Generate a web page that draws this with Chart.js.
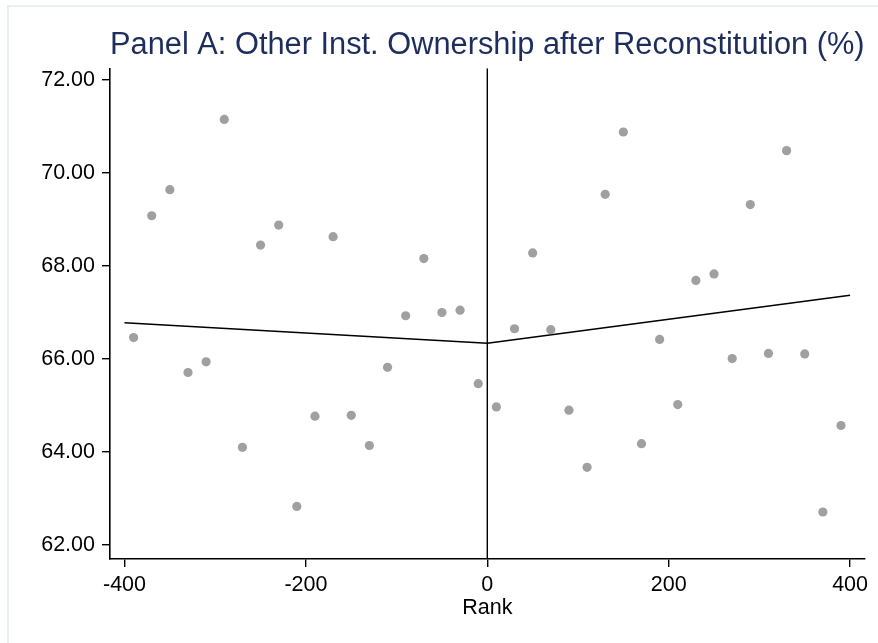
<!DOCTYPE html>
<html>
<head>
<meta charset="utf-8">
<script src="https://cdn.jsdelivr.net/npm/chart.js@4.4.1/dist/chart.umd.min.js"></script>
<style>
  html, body { margin: 0; padding: 0; background: #fff; }
  #wrap { position: relative; width: 878px; height: 643px; }
  #frame { position: absolute; left: 7px; top: 5px; right: -10px; bottom: -10px;
           border-top: 2px solid #e9f0f3; border-left: 2px solid #e9f0f3; }
  canvas { position: absolute; left: 0; top: 0; }
</style>
</head>
<body>
<div id="wrap">
  <div id="frame"></div>
  <canvas id="chart" width="878" height="643"></canvas>
</div>
<script>
const rank = [-390, -370, -350, -330, -310, -290, -270, -250, -230, -210,
              -190, -170, -150, -130, -110, -90, -70, -50, -30, -10,
              10, 30, 50, 70, 90, 110, 130, 150, 170, 190,
              210, 230, 250, 270, 290, 310, 330, 350, 370, 390];
const ownership = [66.46, 69.08, 69.64, 65.71, 65.94, 71.15, 64.10, 68.45, 68.88, 62.83,
                   64.77, 68.63, 64.79, 64.14, 65.82, 66.93, 68.16, 67.00, 67.05, 65.47,
                   64.97, 66.65, 68.28, 66.63, 64.90, 63.67, 69.54, 70.88, 64.18, 66.42,
                   65.02, 67.69, 67.83, 66.01, 69.32, 66.12, 70.48, 66.11, 62.71, 64.57];

// linear fits on each side of the cutoff
const fitLeftX = [-400, 0];
const fitLeftY = [66.78, 66.34];
const fitRightX = [0, 400];
const fitRightY = [66.34, 67.37];

const xTicks = [-400, -200, 0, 200, 400];
const yTicks = [62, 64, 66, 68, 70, 72];
const xRange = [-416, 416];
const yRange = [61.70, 72.25];

const toPoints = (xs, ys) => xs.map((x, i) => ({x: x, y: ys[i]}));

const FONT = '"Liberation Sans", Arial, sans-serif';

const ctx = document.getElementById('chart').getContext('2d');

new Chart(ctx, {
  type: 'scatter',
  data: {
    datasets: [
      {
        data: toPoints(rank, ownership),
        pointRadius: 4.6,
        pointBorderWidth: 0,
        pointBackgroundColor: '#a0a0a0',
        showLine: false
      },
      {
        data: toPoints(fitLeftX, fitLeftY),
        showLine: true,
        pointRadius: 0,
        borderColor: '#000',
        borderWidth: 1.6
      },
      {
        data: toPoints(fitRightX, fitRightY),
        showLine: true,
        pointRadius: 0,
        borderColor: '#000',
        borderWidth: 1.6
      },
      {
        // cutoff at rank 0
        data: toPoints([0, 0], yRange),
        showLine: true,
        pointRadius: 0,
        borderColor: '#000',
        borderWidth: 1.4
      }
    ]
  },
  options: {
    responsive: false,
    animation: false,
    layout: { padding: { left: 0, right: 13.4, top: 0, bottom: 0 } },
    plugins: {
      legend: { display: false },
      tooltip: { enabled: false },
      title: {
        display: true,
        fullSize: false,
        text: 'Panel A: Other Inst. Ownership after Reconstitution (%)',
        color: '#1e2e5c',
        font: { family: FONT, size: 31, weight: 'normal', lineHeight: 1.2 },
        padding: { top: 26.7, bottom: 4.4 }
      }
    },
    scales: {
      x: {
        type: 'linear',
        min: xRange[0],
        max: xRange[1],
        afterBuildTicks: (scale) => { scale.ticks = xTicks.map(v => ({value: v})); },
        afterFit: (scale) => { scale.height = 84; },
        grid: { display: true, drawOnChartArea: false, drawTicks: true, tickLength: 8, color: '#000', lineWidth: 1.4 },
        border: { display: true, color: '#000', width: 1.6 },
        ticks: { color: '#000', padding: 5, font: { family: FONT, size: 21.5 }, maxRotation: 0 },
        title: {
          display: true,
          text: 'Rank',
          color: '#000',
          font: { family: FONT, size: 21.5 },
          padding: { top: 0, bottom: 22 }
        }
      },
      y: {
        type: 'linear',
        min: yRange[0],
        max: yRange[1],
        afterBuildTicks: (scale) => { scale.ticks = yTicks.map(v => ({value: v})); },
        afterFit: (scale) => { scale.width = 110; },
        grid: { display: true, drawOnChartArea: false, drawTicks: true, tickLength: 8, color: '#000', lineWidth: 1.4 },
        border: { display: true, color: '#000', width: 1.6 },
        ticks: {
          color: '#000',
          padding: 7,
          font: { family: FONT, size: 21.5 },
          callback: (v) => Number(v).toFixed(2)
        }
      }
    }
  }
});
</script>
</body>
</html>
